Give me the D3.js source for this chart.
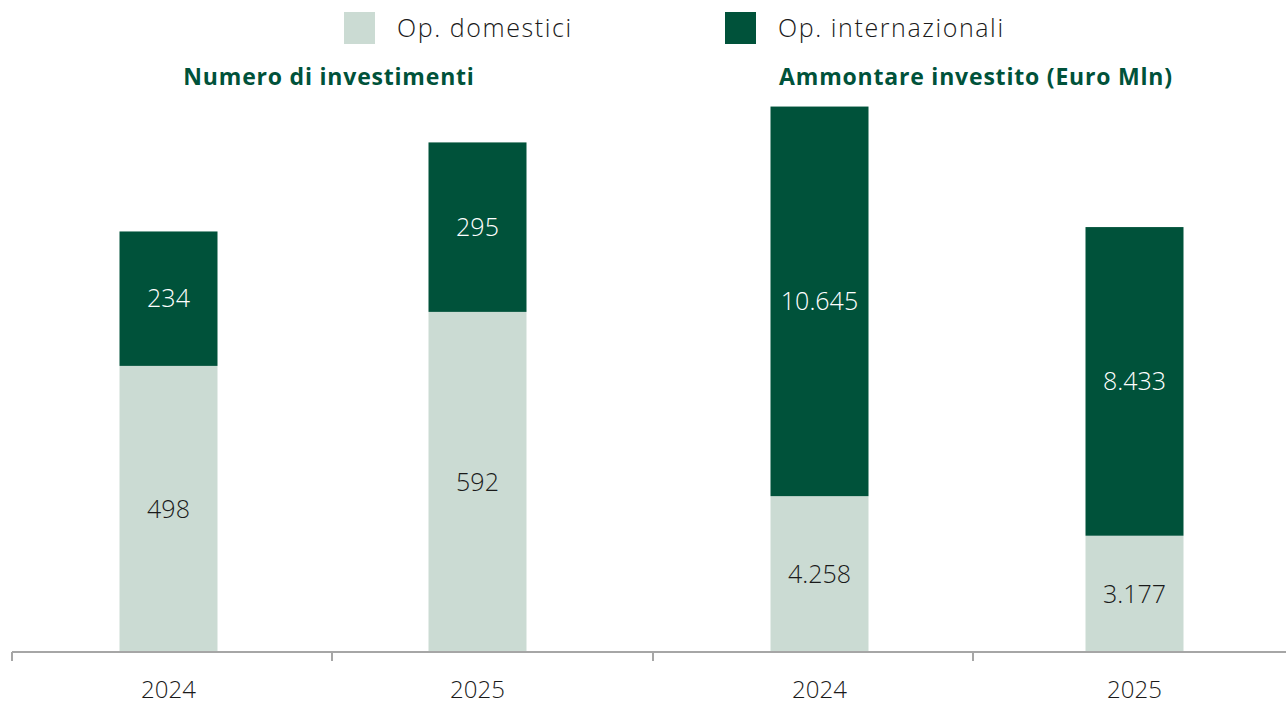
<!DOCTYPE html>
<html><head><meta charset="utf-8">
<script src="https://cdn.jsdelivr.net/npm/d3@7"></script>
<style>html,body{margin:0;padding:0;background:#fff;} svg{display:block;}</style>
</head><body>
<script>
// Data
const years = ["2024", "2025"];
const seriesNames = ["Op. domestici", "Op. internazionali"];
const countDomestic = [498, 592];
const countInternational = [234, 295];
const amountDomestic = [4258, 3177];
const amountInternational = [10645, 8433];
const panelTitles = ["Numero di investimenti", "Ammontare investito (Euro Mln)"];
const fmt = v => v.toLocaleString("de-DE");

const W = 1286, H = 705;
const colors = ["#cbdbd3", "#00523a"];
const font = "'Open Sans', sans-serif";
const baseY = 652;

const svg = d3.select("body").append("svg").attr("width", W).attr("height", H);

// Legend
const legendX = [344, 725];
seriesNames.forEach((n, i) => {
  const g = svg.append("g").attr("transform", `translate(${legendX[i]},12)`);
  g.append("rect").attr("width", 31).attr("height", 32).attr("fill", colors[i]);
  g.append("text").attr("x", 53).attr("y", 16).attr("dy", "0.35em")
    .attr("font-family", font).attr("font-weight", 300).attr("font-size", 25)
    .attr("letter-spacing", 1.6).attr("fill", "#1a1a1a").text(n);
});

// Panels
const panels = [
  {title: panelTitles[0], titleX: 329, dom: countDomestic, intl: countInternational,
   x: d3.scalePoint().domain(years).range([168.5, 477.5]),
   y: d3.scaleLinear().domain([0, 900]).range([baseY, baseY - 900 * 0.5745])},
  {title: panelTitles[1], titleX: 976, dom: amountDomestic, intl: amountInternational,
   x: d3.scalePoint().domain(years).range([819.5, 1134.5]),
   y: d3.scaleLinear().domain([0, 15000]).range([baseY, baseY - 15000 * 0.0366])}
];
const barW = 98;

panels.forEach(p => {
  svg.append("text").attr("x", p.titleX).attr("y", 77).attr("dy", "0.35em")
    .attr("text-anchor", "middle").attr("font-family", font).attr("font-weight", 700)
    .attr("font-size", 23).attr("letter-spacing", 0.8).attr("fill", colors[1]).text(p.title);
  const stack = years.map((yr, i) => ({yr, d: p.dom[i], n: p.intl[i]}));
  const stacked = d3.stack().keys(["d", "n"])(stack);
  stacked.forEach((layer, li) => {
    layer.forEach((seg, i) => {
      const yr = years[i];
      const y0 = p.y(seg[0]), y1 = p.y(seg[1]);
      svg.append("rect").attr("x", p.x(yr) - barW / 2).attr("width", barW)
        .attr("y", y1).attr("height", y0 - y1).attr("fill", colors[li]);
      svg.append("text").attr("x", p.x(yr)).attr("y", (y0 + y1) / 2).attr("dy", "0.35em")
        .attr("text-anchor", "middle").attr("font-family", font).attr("font-weight", 300).attr("font-size", 25)
        .attr("fill", li === 0 ? "#1a1a1a" : "#fff").text(fmt(seg.data[layer.key]));
    });
  });
  // x labels
  years.forEach(yr => {
    svg.append("text").attr("x", p.x(yr)).attr("y", 690).attr("dy", "0.35em")
      .attr("text-anchor", "middle").attr("font-family", font).attr("font-weight", 300).attr("font-size", 24)
      .attr("fill", "#1a1a1a").text(yr);
  });
});

// Axis with category boundary ticks
const cats = ["a", "b", "c", "d"];
const xb = d3.scaleBand().domain(cats).range([12, 1293]);
const axis = svg.append("g");
axis.append("line").attr("x1", 12).attr("x2", W).attr("y1", baseY).attr("y2", baseY)
  .attr("stroke", "#a6a6a6").attr("stroke-width", 2);
cats.forEach(c => {
  const x = Math.round(xb(c));
  axis.append("line").attr("x1", x).attr("x2", x).attr("y1", baseY).attr("y2", baseY + 9)
    .attr("stroke", "#a6a6a6").attr("stroke-width", 2);
});
</script>
</body></html>
